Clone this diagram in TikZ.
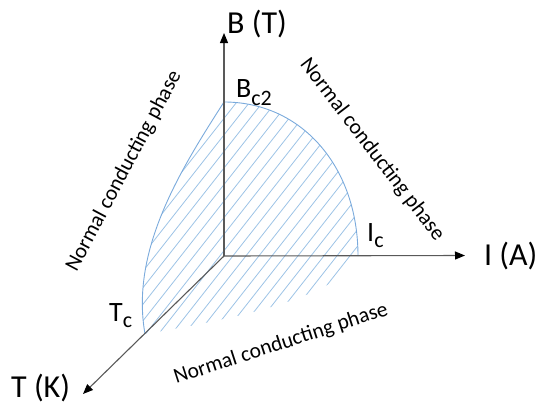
\documentclass[tikz,border=0pt]{standalone}
\usepackage{fontspec}
\setmainfont{Carlito}
\usetikzlibrary{arrows.meta}
\definecolor{axisgray}{HTML}{595959}
\definecolor{edgeblue}{HTML}{7AAADC}
\definecolor{hatchblue}{HTML}{9DC3E6}
\begin{document}
\begin{tikzpicture}[x=1pt,y=-1pt,
  axis/.style={draw=axisgray, line width=1.1pt, -{Triangle[length=10pt,width=8pt,color=black]}},
  edge/.style={draw=edgeblue, line width=0.9pt},
  hatchline/.style={draw=hatchblue, line width=0.8pt},
  biglabel/.style={inner sep=0pt, font=\fontsize{32}{36}\selectfont, text=black},
  critlabel/.style={inner sep=0pt, font=\fontsize{28}{32}\selectfont, text=black},
  phaselabel/.style={inner sep=0pt, font=\fontsize{21.5}{26}\selectfont, text=black}]
\useasboundingbox (0,0) rectangle (536,405);
\coordinate (O) at (224,256);
\coordinate (Btip) at (224,33);
\coordinate (Itip) at (465,255.5);
\coordinate (Ttip) at (83,394);
\coordinate (Bc) at (224,102);
\coordinate (Ic) at (358,256);
\coordinate (Tc) at (145,334);
% hatched region
\begin{scope}
  \clip (Bc) .. controls (181,169) and (130,250) .. (Tc)
        .. controls (215,322) and (340,300) .. (Ic)
        .. controls (358,167) and (302,102) .. (Bc) -- cycle;
  \foreach \i in {-14,...,27} \draw[hatchline] (\i*13,420) -- ++(330,-420);
\end{scope}
\draw[edge] (Tc) .. controls (130,250) and (181,169) .. (Bc)
            .. controls (302,102) and (358,167) .. (Ic);
% axes
\draw[axis] (O) -- (Btip);
\draw[axis] (O) -- (Itip);
\draw[axis] (O) -- (Ttip);
% axis labels
\node[biglabel, anchor=base west] (Blab) at (227,33) {B (T)};
\node[biglabel, anchor=base west] (Ilab) at (484,265) {I (A)};
\node[biglabel, anchor=base west] (Tlab) at (11,397) {T (K)};
% critical values
\node[critlabel, anchor=base west] (Bclab) at (236,97) {B\raisebox{-8pt}{\fontsize{22}{24}\selectfont c2}};
\node[critlabel, anchor=base west] (Iclab) at (367,241) {I\raisebox{-6pt}{\fontsize{22}{24}\selectfont c}};
\node[critlabel, anchor=base west] (Tclab) at (109,321) {T\raisebox{-6pt}{\fontsize{22}{24}\selectfont c}};
% phase labels
\node[phaselabel, rotate=62] (leftphase) at (124,171) {Normal conducting phase};
\node[phaselabel, rotate=-52.5] (rightphase) at (372,150) {Normal conducting phase};
\node[phaselabel, rotate=18] (bottomphase) at (281,344) {Normal conducting phase};
\end{tikzpicture}
\end{document}
